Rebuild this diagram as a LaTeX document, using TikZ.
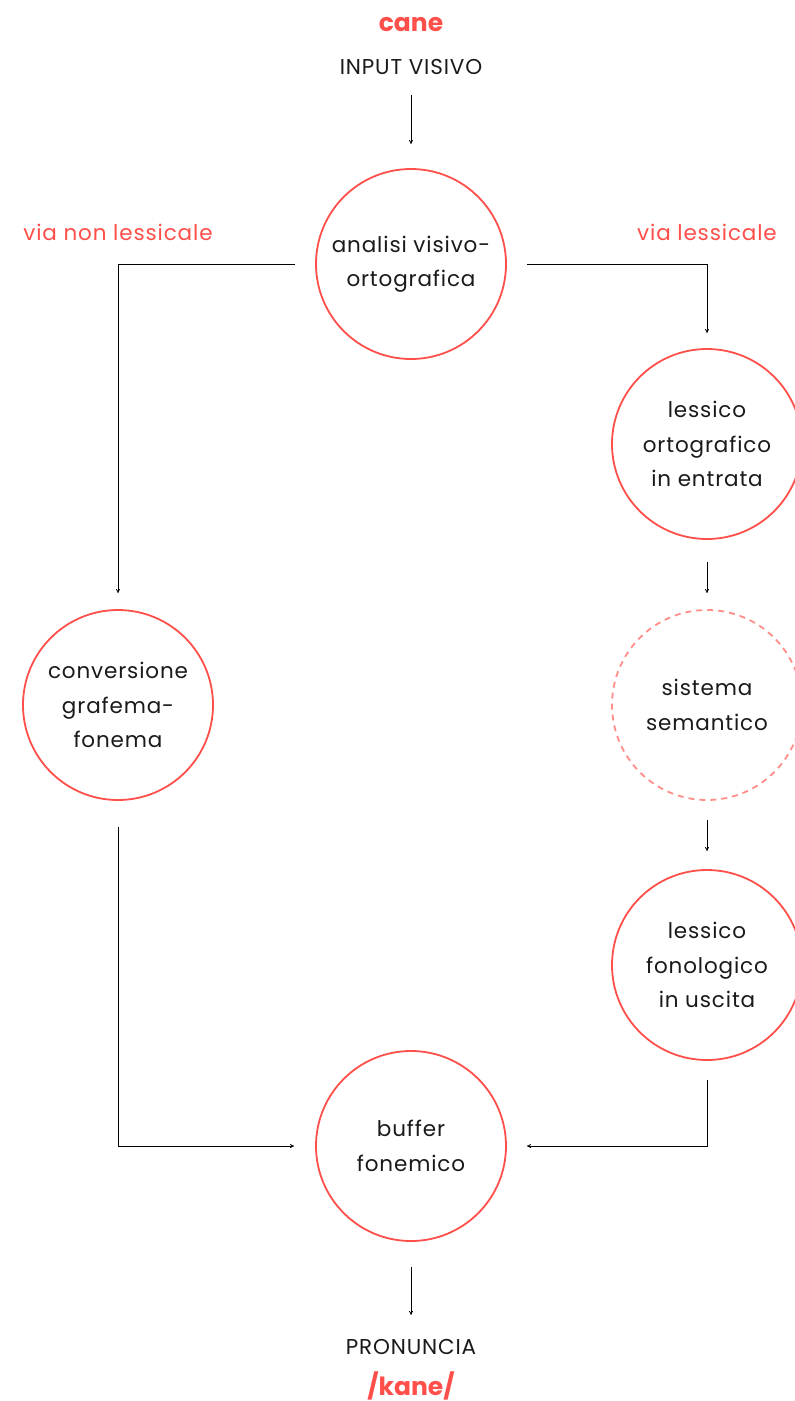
\documentclass[tikz,border=0pt]{standalone}
\usepackage{fontspec}
\setmainfont[Ligatures=NoCommon]{Poppins}
\newfontfamily\spacedfont[Ligatures=NoCommon,LetterSpace=4]{Poppins}
\usetikzlibrary{arrows.meta}
\definecolor{cred}{HTML}{FF4F4A}
\definecolor{clight}{HTML}{FF8E89}
\definecolor{ctext}{HTML}{1A1A1A}
\begin{document}
\begin{tikzpicture}[x=1pt,y=-1pt,
  every node/.style={font=\spacedfont\fontsize{21.5}{34.5}\selectfont, text=ctext},
  stage/.style={circle, draw=cred, line width=1.8pt, minimum size=190pt, inner sep=0pt, align=center},
  dstage/.style={stage, draw=clight, dash pattern=on 6pt off 5pt},
  conn/.style={-{To[length=4pt,width=4pt]}, line width=0.8pt, black},
  redlbl/.style={text=cred, anchor=base},
  plain/.style={anchor=base},
  title/.style={text=cred, anchor=base, font=\rmfamily\fontsize{25}{30}\selectfont\bfseries}
]
\useasboundingbox (0,0) rectangle (795,1401);
\node[title] (cane) at (411,31) {cane};
\node[plain] (input) at (411,74) {INPUT VISIVO};
\node[redlbl] (vnl) at (118,240) {via non lessicale};
\node[redlbl] (vl) at (707,240) {via lessicale};

\node[stage] (avo) at (411,264) {analisi visivo-\\ortografica};
\node[stage] (loe) at (707,444) {lessico\\ortografico\\in entrata};
\node[dstage] (sem) at (707,705) {sistema\\semantico};
\node[stage] (lfu) at (707,965) {lessico\\fonologico\\in uscita};
\node[stage] (cgf) at (118,705) {conversione\\grafema-\\fonema};
\node[stage] (buf) at (411,1146) {buffer\\fonemico};

\node[plain] (pron) at (411,1354) {PRONUNCIA};
\node[title] (kane) at (411,1395) {/kane/};

\coordinate (inbot) at (411,95);
\draw[conn, shorten >=24pt] (inbot) -- (avo);
\draw[conn, shorten <=20pt, shorten >=16pt] (avo.west) -| (cgf.north);
\draw[conn, shorten <=20pt, shorten >=15pt] (avo.east) -| (loe.north);
\draw[conn, shorten <=22pt, shorten >=16pt] (loe) -- (sem);
\draw[conn, shorten <=19pt, shorten >=18pt] (sem) -- (lfu);
\draw[conn, shorten <=26pt, shorten >=21pt] (cgf.south) |- (buf.west);
\draw[conn, shorten <=19pt, shorten >=20pt] (lfu.south) |- (buf.east);
\coordinate (prontop) at (411,1315);
\draw[conn, shorten <=25pt] (buf) -- (prontop);
\end{tikzpicture}
\end{document}
